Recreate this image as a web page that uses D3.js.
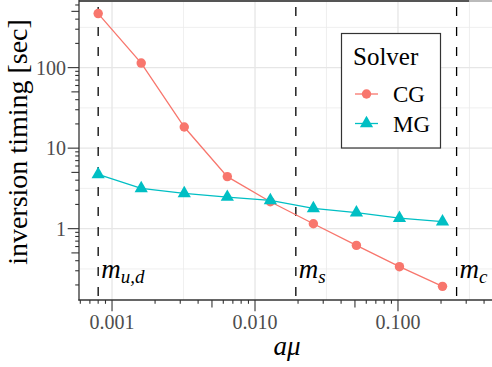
<!DOCTYPE html>
<html>
<head>
<meta charset="utf-8">
<script src="https://cdn.jsdelivr.net/npm/d3@7"></script>
<style>
  html, body { margin: 0; padding: 0; background: #fff; }
  svg { display: block; }
  text { font-family: "Liberation Serif", "DejaVu Serif", serif; }
</style>
</head>
<body>
<svg id="chart" width="492" height="367"></svg>
<script>
// ---- data ----
const amu = [0.0008, 0.0016, 0.0032, 0.0064, 0.0128, 0.0256, 0.0512, 0.1024, 0.2048];
const cgTiming = [469, 114, 18.3, 4.43, 2.16, 1.15, 0.62, 0.337, 0.192];
const mgTiming = [4.73, 3.17, 2.74, 2.47, 2.24, 1.79, 1.58, 1.35, 1.22];
const solvers = ["CG", "MG"];
const solverColors = ["#F8766D", "#00BFC4"];
const massValues = [0.0008, 0.0193, 0.257];
const massNames = ["m", "m", "m"];
const massSubs = ["u,d", "s", "c"];
const xTickValues = [0.001, 0.01, 0.1];
const xTickLabels = ["0.001", "0.010", "0.100"];
const yTickValues = [1, 10, 100];
const yTickLabels = ["1", "10", "100"];
const logMultipliers = [1, 2, 3, 4, 5, 6, 7, 8, 9];

// ---- layout ----
const svg = d3.select("#chart");
const P = { left: 79, right: 500.5, top: 0, bottom: 300 };
const x = d3.scaleLog().domain([Math.pow(10, -3.231), Math.pow(10, -0.283)]).range([P.left, P.right]);
const y = d3.scaleLog().domain([Math.pow(10, -0.886), Math.pow(10, 2.84)]).range([P.bottom, P.top]);

// grid
const grid = svg.append("g");
const xMajor = [-4, -3, -2, -1, 0].map(e => Math.pow(10, e));
const xMinor = [-3.5, -2.5, -1.5, -0.5].map(e => Math.pow(10, e));
const yMajor = [-1, 0, 1, 2, 3].map(e => Math.pow(10, e));
const yMinor = [-0.5, 0.5, 1.5, 2.5].map(e => Math.pow(10, e));
const inX = v => x(v) >= P.left && x(v) <= 492;
const inY = v => y(v) >= P.top && y(v) <= P.bottom;
grid.selectAll(".gxm").data(xMinor.filter(inX)).join("line")
  .attr("x1", d => x(d)).attr("x2", d => x(d)).attr("y1", P.top).attr("y2", P.bottom)
  .attr("stroke", "#ebebeb").attr("stroke-width", 0.8);
grid.selectAll(".gym").data(yMinor.filter(inY)).join("line")
  .attr("x1", P.left).attr("x2", 492).attr("y1", d => y(d)).attr("y2", d => y(d))
  .attr("stroke", "#ebebeb").attr("stroke-width", 0.8);
grid.selectAll(".gxM").data(xMajor.filter(inX)).join("line")
  .attr("x1", d => x(d)).attr("x2", d => x(d)).attr("y1", P.top).attr("y2", P.bottom)
  .attr("stroke", "#e6e6e6").attr("stroke-width", 1.3);
grid.selectAll(".gyM").data(yMajor.filter(inY)).join("line")
  .attr("x1", P.left).attr("x2", 492).attr("y1", d => y(d)).attr("y2", d => y(d))
  .attr("stroke", "#e6e6e6").attr("stroke-width", 1.3);

// top border
svg.append("line").attr("x1", P.left).attr("x2", x(Math.pow(10, -0.5))).attr("y1", 1).attr("y2", 1)
  .attr("stroke", "#555").attr("stroke-width", 2);
svg.append("line").attr("x1", x(Math.pow(10, -0.5))).attr("x2", 492).attr("y1", 1).attr("y2", 1)
  .attr("stroke", "#bbb").attr("stroke-width", 2);

// vertical mass lines
svg.append("g").selectAll("line").data(massValues).join("line")
  .attr("x1", d => x(d)).attr("x2", d => x(d)).attr("y1", 7).attr("y2", P.bottom)
  .attr("stroke", "#000").attr("stroke-width", 1.3).attr("stroke-dasharray", "9,11");

// log ticks
function logTicks(domain) {
  const out = [];
  const lo = Math.floor(Math.log10(domain[0])), hi = Math.ceil(Math.log10(domain[1]));
  for (let e = lo; e <= hi; e++) {
    logMultipliers.forEach(m => {
      const v = m * Math.pow(10, e);
      if (v >= domain[0] && v <= domain[1]) out.push({ v, m });
    });
  }
  return out;
}
const tickLen = m => m === 1 ? 11.3 : (m === 5 ? 7.6 : 3.8);
svg.append("g").selectAll("line").data(logTicks(x.domain()).filter(t => x(t.v) <= 492)).join("line")
  .attr("x1", d => x(d.v)).attr("x2", d => x(d.v))
  .attr("y1", P.bottom).attr("y2", d => P.bottom + tickLen(d.m))
  .attr("stroke", "#333").attr("stroke-width", 1.1);
svg.append("g").selectAll("line").data(logTicks(y.domain())).join("line")
  .attr("y1", d => y(d.v)).attr("y2", d => y(d.v))
  .attr("x1", P.left).attr("x2", d => P.left - tickLen(d.m))
  .attr("stroke", "#333").attr("stroke-width", 1.1);

// axis lines
svg.append("line").attr("x1", P.left).attr("x2", P.left).attr("y1", 0).attr("y2", P.bottom + 0.6)
  .attr("stroke", "#333").attr("stroke-width", 1.3);
svg.append("line").attr("x1", P.left - 0.6).attr("x2", 492).attr("y1", P.bottom).attr("y2", P.bottom)
  .attr("stroke", "#333").attr("stroke-width", 1.3);

// tick labels
svg.append("g").selectAll("text").data(xTickValues).join("text")
  .attr("x", d => x(d)).attr("y", 329).attr("text-anchor", "middle")
  .attr("font-size", 20).attr("fill", "#4d4d4d")
  .text((d, i) => xTickLabels[i]);
svg.append("g").selectAll("text").data(yTickValues).join("text")
  .attr("x", 66).attr("y", d => y(d) + 7).attr("text-anchor", "end")
  .attr("font-size", 20).attr("fill", "#4d4d4d")
  .text((d, i) => yTickLabels[i]);

// axis titles
svg.append("text").attr("transform", "translate(27,142) rotate(-90)")
  .attr("text-anchor", "middle").attr("font-size", 28).attr("fill", "#000")
  .text("inversion timing [sec]");
const xt = svg.append("text").attr("x", 287).attr("y", 355).attr("text-anchor", "middle")
  .attr("font-size", 27).attr("font-style", "italic").attr("fill", "#000");
xt.append("tspan").text("a");
xt.append("tspan").text("μ");

// lines and points
const series = [cgTiming, mgTiming];
const line = d3.line().x(d => x(d[0])).y(d => y(d[1]));
series.forEach((vals, si) => {
  const pts = amu.map((a, i) => [a, vals[i]]);
  svg.append("path").datum(pts).attr("d", line).attr("fill", "none")
    .attr("stroke", solverColors[si]).attr("stroke-width", 1.3);
  const sym = d3.symbol().type(si === 0 ? d3.symbolCircle : d3.symbolTriangle).size(si === 0 ? 70 : 76);
  svg.append("g").selectAll("path").data(pts).join("path")
    .attr("transform", d => `translate(${x(d[0])},${y(d[1])})`)
    .attr("d", sym()).attr("fill", solverColors[si]);
});

// mass labels
massValues.forEach((mv, i) => {
  const t = svg.append("text").attr("x", x(mv) + 3).attr("y", 278)
    .attr("font-size", 27).attr("font-style", "italic").attr("fill", "#000");
  t.append("tspan").text(massNames[i]);
  t.append("tspan").attr("font-size", 19).attr("dy", 5).text(massSubs[i]);
});

// legend
const lg = svg.append("g");
lg.append("rect").attr("x", 341.5).attr("y", 33.5).attr("width", 99).attr("height", 114.5)
  .attr("fill", "#fff").attr("stroke", "#333").attr("stroke-width", 1.2);
lg.append("text").attr("x", 353).attr("y", 65).attr("font-size", 25).attr("fill", "#000").text("Solver");
solvers.forEach((s, i) => {
  const cy = 94 + i * 29.5;
  lg.append("line").attr("x1", 355).attr("x2", 378).attr("y1", cy).attr("y2", cy)
    .attr("stroke", solverColors[i]).attr("stroke-width", 1.3);
  const sym = d3.symbol().type(i === 0 ? d3.symbolCircle : d3.symbolTriangle).size(i === 0 ? 70 : 76);
  lg.append("path").attr("transform", `translate(366.5,${cy})`).attr("d", sym()).attr("fill", solverColors[i]);
  lg.append("text").attr("x", 393).attr("y", cy + 8).attr("font-size", 23).attr("fill", "#000").text(s);
});
</script>
</body>
</html>
